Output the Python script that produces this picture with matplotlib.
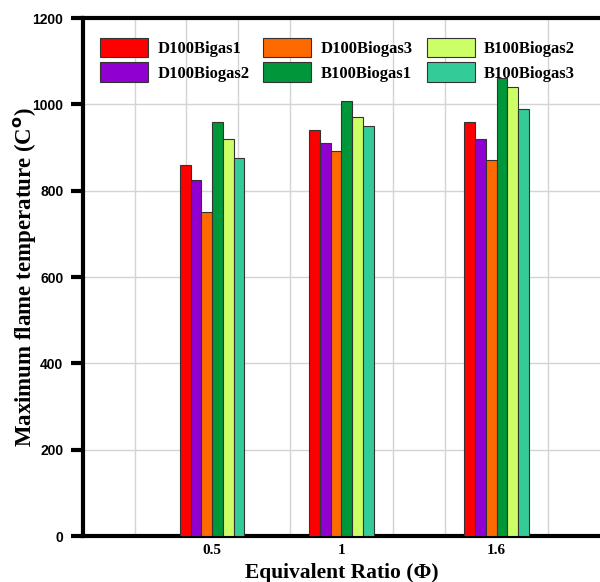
import numpy as np
import matplotlib
matplotlib.use("Agg")
import matplotlib.pyplot as plt

# equivalent ratios (numeric x positions)
phi = [0.5, 1.0, 1.6]
phi_labels = ['0.5', '1', '1.6']

series = ['D100Bigas1', 'D100Biogas2', 'D100Biogas3',
          'B100Biogas1', 'B100Biogas2', 'B100Biogas3']
d100_biogas1 = [860, 940, 960]
d100_biogas2 = [825, 910, 920]
d100_biogas3 = [750, 892, 870]
b100_biogas1 = [960, 1008, 1060]
b100_biogas2 = [920, 970, 1040]
b100_biogas3 = [875, 950, 990]
values = [d100_biogas1, d100_biogas2, d100_biogas3,
          b100_biogas1, b100_biogas2, b100_biogas3]
colors = ['#ff0000', '#9000d0', '#ff6a00', '#00963a', '#ccff66', '#33cc99']

serif = 'Liberation Serif'
sans = 'Liberation Sans'

fig = plt.figure(figsize=(6.0, 5.82), dpi=100)
ax = fig.add_axes([0.138, 0.079, 0.862, 0.890])

bw = 0.0417
x = np.array(phi)
for i, (name, vals, c) in enumerate(zip(series, values, colors)):
    ax.bar(x + (i - 2.5) * bw, vals, width=bw, color=c, edgecolor='#333333',
           linewidth=0.8, label=name, zorder=3)

ax.set_xlim(0, 2.0)
ax.set_ylim(0, 1200)
ax.set_yticks(range(0, 1201, 200))
ax.set_xticks(phi)
ax.set_xticklabels(phi_labels, fontfamily=serif, fontweight='bold', fontsize=11)
for lbl in ax.get_yticklabels():
    lbl.set_fontfamily(sans)
    lbl.set_fontweight('bold')
    lbl.set_fontsize(10)

ax.set_xticks(np.arange(0.2, 2.0, 0.2), minor=True)
ax.grid(True, which='minor', axis='x', color='#d4d4d4', linewidth=1, zorder=0)
ax.grid(True, which='major', axis='y', color='#d4d4d4', linewidth=1, zorder=0)
ax.set_axisbelow(True)

ax.tick_params(axis='y', direction='out', length=9, width=3, pad=5)
ax.tick_params(axis='x', which='both', length=0, pad=6)

for s in ['left', 'bottom', 'top']:
    ax.spines[s].set_linewidth(3)
ax.spines['right'].set_visible(False)

ax.set_xlabel('Equivalent Ratio (\u03a6)', fontfamily=serif, fontweight='bold',
              fontsize=15.5, labelpad=4)
ax.set_ylabel('Maximum flame temperature (C$^{\\mathbf{o}}$)', fontfamily=serif,
              fontweight='bold', fontsize=16.5)
ax.yaxis.set_label_coords(-0.085, 0.5)

leg = ax.legend(ncol=3, loc='upper left', bbox_to_anchor=(0.0, 0.996),
                frameon=False, prop={'family': serif, 'weight': 'bold', 'size': 12},
                handlelength=2.88, handleheight=1.45, labelspacing=0.3,
                handletextpad=0.54, columnspacing=0.84, borderpad=0.8,
                borderaxespad=0.25)
leg.set_zorder(2.5)

fig.savefig('out.png', dpi=100)
